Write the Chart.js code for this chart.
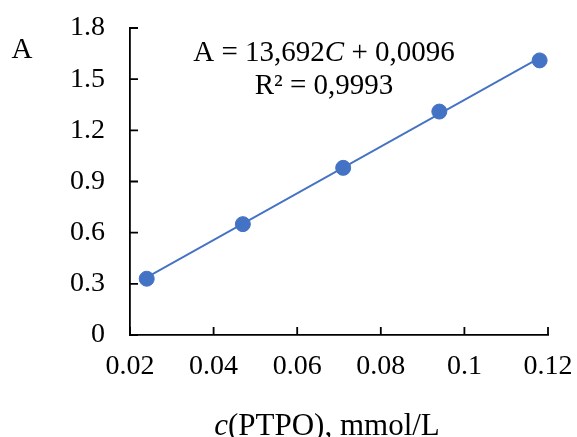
<!DOCTYPE html>
<html>
<head>
<meta charset="utf-8">
<script src="https://cdn.jsdelivr.net/npm/chart.js@4"></script>
<style>
  html, body { margin: 0; padding: 0; background: #fff; }
  #wrap { width: 577px; height: 437px; }
</style>
</head>
<body>
<div id="wrap"><canvas id="c"></canvas></div>
<script>
// measured points, c(PTPO) in mmol/L vs absorbance
const concentration = [0.024, 0.047, 0.071, 0.094, 0.118];
const absorbance = [0.33, 0.65, 0.98, 1.31, 1.61];

// trend line end points as drawn
const trendX = [0.024, 0.118];
const trendY = [0.338, 1.625];

const xTicks = [0.02, 0.04, 0.06, 0.08, 0.1, 0.12];
const yTicks = [0, 0.3, 0.6, 0.9, 1.2, 1.5, 1.8];

const BLUE = '#4472C4';
const FONT = '"Liberation Serif", "Times New Roman", serif';
const SIZE = 28;

// inward ticks + equation + axis titles
const extras = {
    id: 'extras',
    afterDraw(chart) {
        const ctx = chart.ctx;
        const x = chart.scales.x, y = chart.scales.y;
        const area = chart.chartArea;
        ctx.save();
        ctx.strokeStyle = '#000';
        ctx.lineWidth = 1.8;
        ctx.beginPath();
        xTicks.forEach(v => {
            const px = x.getPixelForValue(v);
            ctx.moveTo(px, area.bottom);
            ctx.lineTo(px, area.bottom - 8);
        });
        yTicks.forEach(v => {
            const py = y.getPixelForValue(v);
            ctx.moveTo(area.left, py);
            ctx.lineTo(area.left + 8, py);
        });
        ctx.stroke();

        ctx.fillStyle = '#000';
        ctx.textBaseline = 'alphabetic';

        // helper for mixed italic text, centred on cx
        const runs = (parts, cx, by, size) => {
            let w = 0;
            parts.forEach(p => {
                ctx.font = (p.i ? 'italic ' : '') + size + 'px ' + FONT;
                p.w = ctx.measureText(p.t).width;
                w += p.w;
            });
            let sx = cx - w / 2;
            ctx.textAlign = 'left';
            parts.forEach(p => {
                ctx.font = (p.i ? 'italic ' : '') + size + 'px ' + FONT;
                ctx.fillText(p.t, sx, by);
                sx += p.w;
            });
        };

        runs([{ t: 'A = 13,692' }, { t: 'C', i: true }, { t: ' + 0,0096' }], 324, 61, 29);
        runs([{ t: 'R² = 0,9993' }], 324, 94, 29);
        runs([{ t: 'c', i: true }, { t: '(PTPO), mmol/L' }], 327, 435, 31);
        runs([{ t: 'A' }], 22, 58, 29);
        ctx.restore();
    }
};

new Chart(document.getElementById('c'), {
    type: 'scatter',
    data: {
        datasets: [
            {
                type: 'line',
                data: trendX.map((v, i) => ({ x: v, y: trendY[i] })),
                borderColor: BLUE,
                borderWidth: 1.8,
                pointRadius: 0,
                fill: false
            },
            {
                data: concentration.map((v, i) => ({ x: v, y: absorbance[i] })),
                backgroundColor: BLUE,
                borderColor: BLUE,
                pointRadius: 7.5,
                pointHoverRadius: 7.5
            }
        ]
    },
    options: {
        responsive: true,
        maintainAspectRatio: false,
        animation: false,
        events: [],
        layout: { padding: { top: 28, right: 29, left: 0, bottom: 0 } },
        plugins: { legend: { display: false }, tooltip: { enabled: false } },
        scales: {
            x: {
                type: 'linear',
                min: 0.02,
                max: 0.12,
                afterBuildTicks: s => { s.ticks = xTicks.map(v => ({ value: v })); },
                afterFit: s => { s.height = 102; s.paddingLeft = 0; s.paddingRight = 0; },
                grid: { drawOnChartArea: false, drawTicks: false },
                border: { display: true, color: '#000', width: 1.8 },
                ticks: {
                    padding: 15,
                    color: '#000',
                    font: { family: FONT, size: SIZE },
                    callback: v => String(+v.toFixed(2))
                }
            },
            y: {
                min: 0,
                max: 1.8,
                afterBuildTicks: s => { s.ticks = yTicks.map(v => ({ value: v })); },
                afterFit: s => { s.width = 130; s.paddingTop = 0; s.paddingBottom = 0; },
                grid: { drawOnChartArea: false, drawTicks: false },
                border: { display: true, color: '#000', width: 1.8 },
                ticks: {
                    padding: 25,
                    color: '#000',
                    font: { family: FONT, size: SIZE },
                    callback: v => String(+v.toFixed(1))
                }
            }
        }
    },
    plugins: [extras]
});
</script>
</body>
</html>
